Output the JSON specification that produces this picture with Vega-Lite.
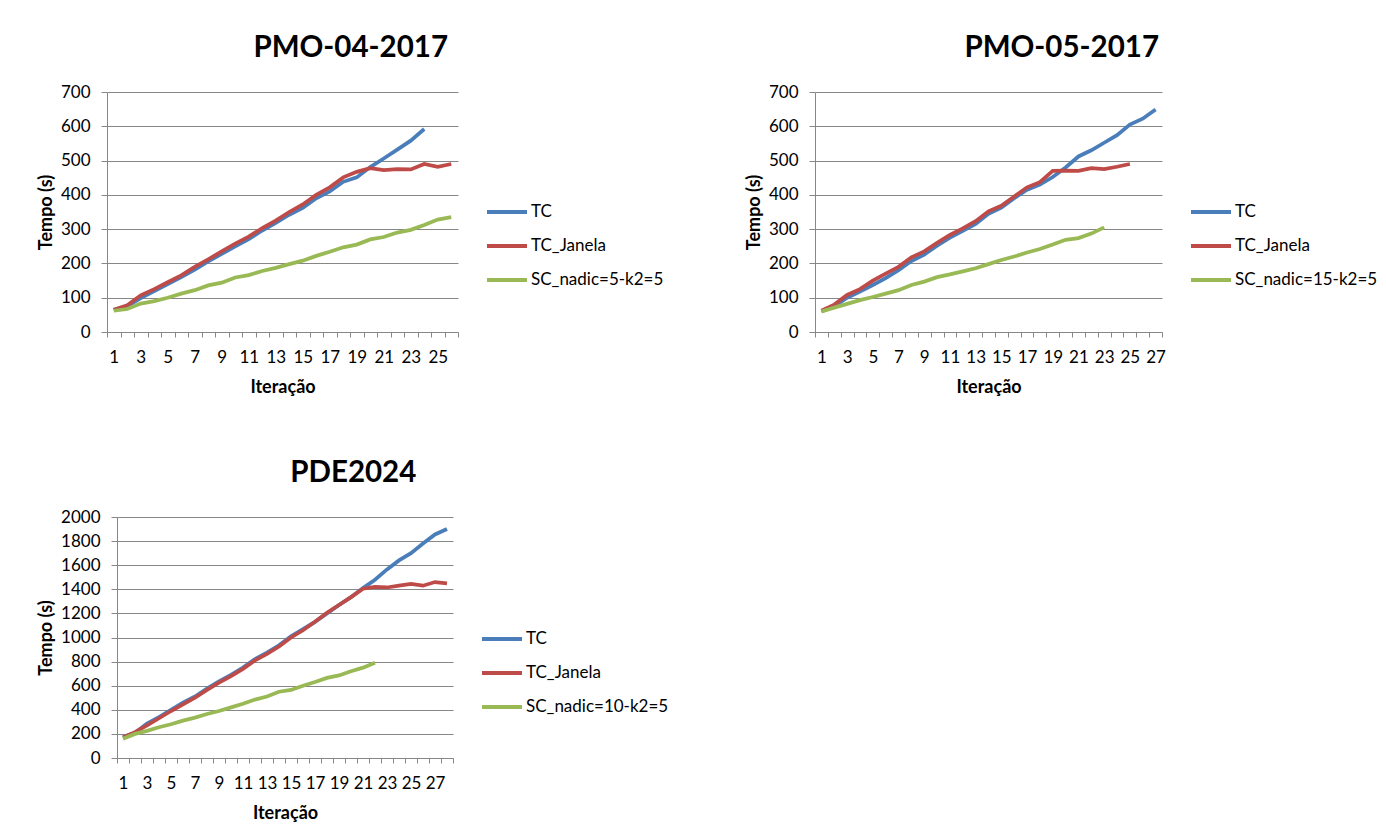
{
  "$schema": "https://vega.github.io/schema/vega-lite/v6.json",
  "padding": {"left": 37, "top": 32, "right": 0, "bottom": 0},
  "background": "white",
  "config": {
    "font": "Lato",
    "view": {"stroke": null},
    "title": {"font": "Lato", "fontSize": 29.5, "fontWeight": "bold", "color": "#000000", "anchor": "middle", "frame": "bounds", "offset": 20},
    "axis": {"labelFont": "Lato", "labelFontSize": 17, "labelColor": "#000000", "titleFont": "Lato", "titleFontSize": 18, "titleFontWeight": "bold", "titleColor": "#000000", "domainColor": "#878787", "tickColor": "#878787", "gridColor": "#878787", "tickSize": 6, "domainWidth": 1, "tickWidth": 1, "gridWidth": 1},
    "axisX": {"grid": false, "tickBand": "extent", "labelAngle": 0, "labelPadding": 12, "titlePadding": 13, "tickSize": 5},
    "axisY": {"grid": true, "labelPadding": 11, "titlePadding": 5, "format": "d"},
    "legend": {"symbolType": "stroke", "symbolStrokeWidth": 4, "symbolSize": 1600, "labelFont": "Lato", "labelFontSize": 17, "labelColor": "#000000", "rowPadding": 0, "clipHeight": 34, "labelOffset": 2, "padding": 0}
  },
  "concat": [
    {
      "concat": [
        {
          "title": {"text": "PMO-04-2017"},
          "width": 351,
          "height": 240,
          "data": {"values": [
            {"it":1,"s":"TC","t":65},{"it":2,"s":"TC","t":75},{"it":3,"s":"TC","t":99},{"it":4,"s":"TC","t":119},{"it":5,"s":"TC","t":140},{"it":6,"s":"TC","t":160},{"it":7,"s":"TC","t":182},{"it":8,"s":"TC","t":206},{"it":9,"s":"TC","t":228},{"it":10,"s":"TC","t":250},{"it":11,"s":"TC","t":271},{"it":12,"s":"TC","t":296},{"it":13,"s":"TC","t":318},{"it":14,"s":"TC","t":342},{"it":15,"s":"TC","t":362},{"it":16,"s":"TC","t":390},{"it":17,"s":"TC","t":410},{"it":18,"s":"TC","t":438},{"it":19,"s":"TC","t":451},{"it":20,"s":"TC","t":481},{"it":21,"s":"TC","t":506},{"it":22,"s":"TC","t":532},{"it":23,"s":"TC","t":558},{"it":24,"s":"TC","t":592},
            {"it":1,"s":"TC_Janela","t":65},{"it":2,"s":"TC_Janela","t":78},{"it":3,"s":"TC_Janela","t":107},{"it":4,"s":"TC_Janela","t":125},{"it":5,"s":"TC_Janela","t":145},{"it":6,"s":"TC_Janela","t":165},{"it":7,"s":"TC_Janela","t":190},{"it":8,"s":"TC_Janela","t":212},{"it":9,"s":"TC_Janela","t":235},{"it":10,"s":"TC_Janela","t":258},{"it":11,"s":"TC_Janela","t":278},{"it":12,"s":"TC_Janela","t":303},{"it":13,"s":"TC_Janela","t":325},{"it":14,"s":"TC_Janela","t":350},{"it":15,"s":"TC_Janela","t":372},{"it":16,"s":"TC_Janela","t":400},{"it":17,"s":"TC_Janela","t":422},{"it":18,"s":"TC_Janela","t":451},{"it":19,"s":"TC_Janela","t":467},{"it":20,"s":"TC_Janela","t":478},{"it":21,"s":"TC_Janela","t":472},{"it":22,"s":"TC_Janela","t":475},{"it":23,"s":"TC_Janela","t":474},{"it":24,"s":"TC_Janela","t":490},{"it":25,"s":"TC_Janela","t":482},{"it":26,"s":"TC_Janela","t":490},
            {"it":1,"s":"SC_nadic=5-k2=5","t":62},{"it":2,"s":"SC_nadic=5-k2=5","t":67},{"it":3,"s":"SC_nadic=5-k2=5","t":83},{"it":4,"s":"SC_nadic=5-k2=5","t":90},{"it":5,"s":"SC_nadic=5-k2=5","t":100},{"it":6,"s":"SC_nadic=5-k2=5","t":112},{"it":7,"s":"SC_nadic=5-k2=5","t":122},{"it":8,"s":"SC_nadic=5-k2=5","t":136},{"it":9,"s":"SC_nadic=5-k2=5","t":144},{"it":10,"s":"SC_nadic=5-k2=5","t":159},{"it":11,"s":"SC_nadic=5-k2=5","t":166},{"it":12,"s":"SC_nadic=5-k2=5","t":178},{"it":13,"s":"SC_nadic=5-k2=5","t":187},{"it":14,"s":"SC_nadic=5-k2=5","t":198},{"it":15,"s":"SC_nadic=5-k2=5","t":208},{"it":16,"s":"SC_nadic=5-k2=5","t":222},{"it":17,"s":"SC_nadic=5-k2=5","t":234},{"it":18,"s":"SC_nadic=5-k2=5","t":247},{"it":19,"s":"SC_nadic=5-k2=5","t":255},{"it":20,"s":"SC_nadic=5-k2=5","t":270},{"it":21,"s":"SC_nadic=5-k2=5","t":277},{"it":22,"s":"SC_nadic=5-k2=5","t":290},{"it":23,"s":"SC_nadic=5-k2=5","t":298},{"it":24,"s":"SC_nadic=5-k2=5","t":312},{"it":25,"s":"SC_nadic=5-k2=5","t":328},{"it":26,"s":"SC_nadic=5-k2=5","t":335}
          ]},
          "mark": {"type": "line", "strokeWidth": 3.75},
          "encoding": {
            "x": {"field": "it", "type": "ordinal", "bandPosition": 0.5, "scale": {"type": "band", "paddingInner": 0, "paddingOuter": 0}, "axis": {"title": "Iteração", "labelExpr": "datum.value % 2 == 1 ? datum.label : ''"}},
            "y": {"field": "t", "type": "quantitative", "scale": {"domain": [0, 700]}, "axis": {"title": "Tempo (s)", "values": [0,100,200,300,400,500,600,700]}},
            "color": {"field": "s", "type": "nominal", "scale": {"domain": ["TC","TC_Janela","SC_nadic=5-k2=5"], "range": ["#4A7EBB","#BE4B48","#98B954"]}, "legend": {"title": null, "orient": "none", "legendX": 378, "legendY": 103}}
          }
        },
        {
          "title": {"text": "PMO-05-2017"},
          "width": 347,
          "height": 240,
          "data": {"values": [
            {"it":1,"s":"TC","t":60},{"it":2,"s":"TC","t":75},{"it":3,"s":"TC","t":100},{"it":4,"s":"TC","t":118},{"it":5,"s":"TC","t":137},{"it":6,"s":"TC","t":157},{"it":7,"s":"TC","t":180},{"it":8,"s":"TC","t":207},{"it":9,"s":"TC","t":226},{"it":10,"s":"TC","t":252},{"it":11,"s":"TC","t":275},{"it":12,"s":"TC","t":295},{"it":13,"s":"TC","t":315},{"it":14,"s":"TC","t":345},{"it":15,"s":"TC","t":363},{"it":16,"s":"TC","t":390},{"it":17,"s":"TC","t":415},{"it":18,"s":"TC","t":430},{"it":19,"s":"TC","t":452},{"it":20,"s":"TC","t":480},{"it":21,"s":"TC","t":512},{"it":22,"s":"TC","t":530},{"it":23,"s":"TC","t":552},{"it":24,"s":"TC","t":574},{"it":25,"s":"TC","t":605},{"it":26,"s":"TC","t":622},{"it":27,"s":"TC","t":649},
            {"it":1,"s":"TC_Janela","t":62},{"it":2,"s":"TC_Janela","t":80},{"it":3,"s":"TC_Janela","t":108},{"it":4,"s":"TC_Janela","t":125},{"it":5,"s":"TC_Janela","t":150},{"it":6,"s":"TC_Janela","t":170},{"it":7,"s":"TC_Janela","t":190},{"it":8,"s":"TC_Janela","t":218},{"it":9,"s":"TC_Janela","t":235},{"it":10,"s":"TC_Janela","t":260},{"it":11,"s":"TC_Janela","t":283},{"it":12,"s":"TC_Janela","t":302},{"it":13,"s":"TC_Janela","t":323},{"it":14,"s":"TC_Janela","t":352},{"it":15,"s":"TC_Janela","t":368},{"it":16,"s":"TC_Janela","t":395},{"it":17,"s":"TC_Janela","t":422},{"it":18,"s":"TC_Janela","t":437},{"it":19,"s":"TC_Janela","t":470},{"it":20,"s":"TC_Janela","t":471},{"it":21,"s":"TC_Janela","t":470},{"it":22,"s":"TC_Janela","t":478},{"it":23,"s":"TC_Janela","t":475},{"it":24,"s":"TC_Janela","t":482},{"it":25,"s":"TC_Janela","t":490},
            {"it":1,"s":"SC_nadic=15-k2=5","t":60},{"it":2,"s":"SC_nadic=15-k2=5","t":71},{"it":3,"s":"SC_nadic=15-k2=5","t":82},{"it":4,"s":"SC_nadic=15-k2=5","t":93},{"it":5,"s":"SC_nadic=15-k2=5","t":102},{"it":6,"s":"SC_nadic=15-k2=5","t":112},{"it":7,"s":"SC_nadic=15-k2=5","t":122},{"it":8,"s":"SC_nadic=15-k2=5","t":137},{"it":9,"s":"SC_nadic=15-k2=5","t":147},{"it":10,"s":"SC_nadic=15-k2=5","t":160},{"it":11,"s":"SC_nadic=15-k2=5","t":168},{"it":12,"s":"SC_nadic=15-k2=5","t":177},{"it":13,"s":"SC_nadic=15-k2=5","t":186},{"it":14,"s":"SC_nadic=15-k2=5","t":198},{"it":15,"s":"SC_nadic=15-k2=5","t":210},{"it":16,"s":"SC_nadic=15-k2=5","t":220},{"it":17,"s":"SC_nadic=15-k2=5","t":232},{"it":18,"s":"SC_nadic=15-k2=5","t":242},{"it":19,"s":"SC_nadic=15-k2=5","t":255},{"it":20,"s":"SC_nadic=15-k2=5","t":269},{"it":21,"s":"SC_nadic=15-k2=5","t":274},{"it":22,"s":"SC_nadic=15-k2=5","t":287},{"it":23,"s":"SC_nadic=15-k2=5","t":305}
          ]},
          "mark": {"type": "line", "strokeWidth": 3.75},
          "encoding": {
            "x": {"field": "it", "type": "ordinal", "bandPosition": 0.5, "scale": {"type": "band", "paddingInner": 0, "paddingOuter": 0}, "axis": {"title": "Iteração", "labelExpr": "datum.value % 2 == 1 ? datum.label : ''"}},
            "y": {"field": "t", "type": "quantitative", "scale": {"domain": [0, 700]}, "axis": {"title": "Tempo (s)", "values": [0,100,200,300,400,500,600,700]}},
            "color": {"field": "s", "type": "nominal", "scale": {"domain": ["TC","TC_Janela","SC_nadic=15-k2=5"], "range": ["#4A7EBB","#BE4B48","#98B954"]}, "legend": {"title": null, "orient": "none", "legendX": 374, "legendY": 103}}
          }
        }
      ],
      "columns": 2,
      "align": "none",
      "spacing": 81,
      "resolve": {"scale": {"color": "independent"}}
    },
    {
      "title": {"text": "PDE2024"},
      "width": 346,
      "height": 241,
      "data": {"values": [
        {"it":1,"s":"TC","t":175},{"it":2,"s":"TC","t":210},{"it":3,"s":"TC","t":285},{"it":4,"s":"TC","t":340},{"it":5,"s":"TC","t":400},{"it":6,"s":"TC","t":460},{"it":7,"s":"TC","t":510},{"it":8,"s":"TC","t":575},{"it":9,"s":"TC","t":635},{"it":10,"s":"TC","t":690},{"it":11,"s":"TC","t":750},{"it":12,"s":"TC","t":820},{"it":13,"s":"TC","t":875},{"it":14,"s":"TC","t":935},{"it":15,"s":"TC","t":1010},{"it":16,"s":"TC","t":1070},{"it":17,"s":"TC","t":1130},{"it":18,"s":"TC","t":1200},{"it":19,"s":"TC","t":1270},{"it":20,"s":"TC","t":1335},{"it":21,"s":"TC","t":1410},{"it":22,"s":"TC","t":1480},{"it":23,"s":"TC","t":1565},{"it":24,"s":"TC","t":1640},{"it":25,"s":"TC","t":1700},{"it":26,"s":"TC","t":1780},{"it":27,"s":"TC","t":1855},{"it":28,"s":"TC","t":1900},
        {"it":1,"s":"TC_Janela","t":170},{"it":2,"s":"TC_Janela","t":215},{"it":3,"s":"TC_Janela","t":270},{"it":4,"s":"TC_Janela","t":330},{"it":5,"s":"TC_Janela","t":390},{"it":6,"s":"TC_Janela","t":445},{"it":7,"s":"TC_Janela","t":500},{"it":8,"s":"TC_Janela","t":565},{"it":9,"s":"TC_Janela","t":625},{"it":10,"s":"TC_Janela","t":680},{"it":11,"s":"TC_Janela","t":740},{"it":12,"s":"TC_Janela","t":810},{"it":13,"s":"TC_Janela","t":865},{"it":14,"s":"TC_Janela","t":925},{"it":15,"s":"TC_Janela","t":1000},{"it":16,"s":"TC_Janela","t":1060},{"it":17,"s":"TC_Janela","t":1130},{"it":18,"s":"TC_Janela","t":1205},{"it":19,"s":"TC_Janela","t":1270},{"it":20,"s":"TC_Janela","t":1335},{"it":21,"s":"TC_Janela","t":1405},{"it":22,"s":"TC_Janela","t":1420},{"it":23,"s":"TC_Janela","t":1415},{"it":24,"s":"TC_Janela","t":1430},{"it":25,"s":"TC_Janela","t":1445},{"it":26,"s":"TC_Janela","t":1430},{"it":27,"s":"TC_Janela","t":1460},{"it":28,"s":"TC_Janela","t":1450},
        {"it":1,"s":"SC_nadic=10-k2=5","t":160},{"it":2,"s":"SC_nadic=10-k2=5","t":200},{"it":3,"s":"SC_nadic=10-k2=5","t":225},{"it":4,"s":"SC_nadic=10-k2=5","t":255},{"it":5,"s":"SC_nadic=10-k2=5","t":280},{"it":6,"s":"SC_nadic=10-k2=5","t":310},{"it":7,"s":"SC_nadic=10-k2=5","t":335},{"it":8,"s":"SC_nadic=10-k2=5","t":365},{"it":9,"s":"SC_nadic=10-k2=5","t":390},{"it":10,"s":"SC_nadic=10-k2=5","t":420},{"it":11,"s":"SC_nadic=10-k2=5","t":450},{"it":12,"s":"SC_nadic=10-k2=5","t":485},{"it":13,"s":"SC_nadic=10-k2=5","t":510},{"it":14,"s":"SC_nadic=10-k2=5","t":550},{"it":15,"s":"SC_nadic=10-k2=5","t":565},{"it":16,"s":"SC_nadic=10-k2=5","t":600},{"it":17,"s":"SC_nadic=10-k2=5","t":630},{"it":18,"s":"SC_nadic=10-k2=5","t":665},{"it":19,"s":"SC_nadic=10-k2=5","t":685},{"it":20,"s":"SC_nadic=10-k2=5","t":720},{"it":21,"s":"SC_nadic=10-k2=5","t":750},{"it":22,"s":"SC_nadic=10-k2=5","t":790}
      ]},
      "mark": {"type": "line", "strokeWidth": 3.75},
      "encoding": {
        "x": {"field": "it", "type": "ordinal", "bandPosition": 0.5, "scale": {"type": "band", "paddingInner": 0, "paddingOuter": 0, "range": [10, 346]}, "axis": {"title": "Iteração", "labelExpr": "datum.value % 2 == 1 ? datum.label : ''"}},
        "y": {"field": "t", "type": "quantitative", "scale": {"domain": [0, 2000]}, "axis": {"title": "Tempo (s)", "offset": -10, "values": [0,200,400,600,800,1000,1200,1400,1600,1800,2000]}},
        "color": {"field": "s", "type": "nominal", "scale": {"domain": ["TC","TC_Janela","SC_nadic=10-k2=5"], "range": ["#4A7EBB","#BE4B48","#98B954"]}, "legend": {"title": null, "orient": "none", "legendX": 373, "legendY": 105}}
      }
    }
  ],
  "columns": 1,
  "align": "none",
  "spacing": 61,
  "resolve": {"scale": {"color": "independent"}}
}
